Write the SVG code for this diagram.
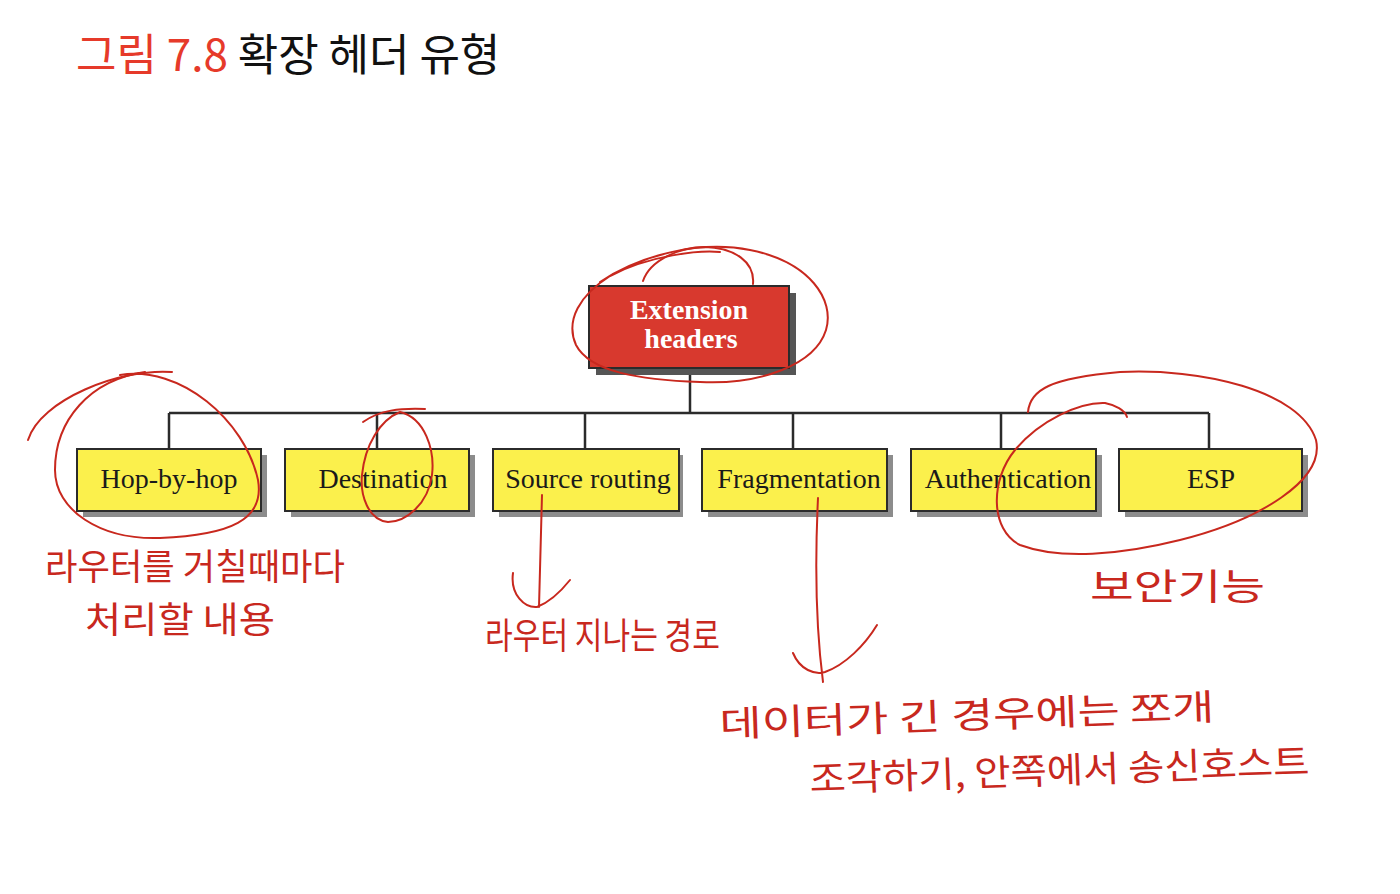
<svg xmlns="http://www.w3.org/2000/svg" width="1400" height="894" viewBox="0 0 1400 894">
<style>
.title{font-family:"Noto Sans CJK KR","Noto Sans",sans-serif;font-size:44px}
.lbl{font-family:"Liberation Serif","Times New Roman",serif;font-size:28px;fill:#1a1a1a;text-anchor:middle}
.ext{font-family:"Liberation Serif","Times New Roman",serif;font-size:28px;font-weight:bold;fill:#ffffff;text-anchor:middle}
.box{fill:#fbf04c;stroke:#2b2b2b;stroke-width:2}
.sh{fill:#8c8c8c}
.con{stroke:#2b2b2b;stroke-width:2.5;fill:none}
.ink{stroke:#c8281e;stroke-width:2;fill:none;stroke-linecap:round;stroke-linejoin:round}
.hw{font-family:"Noto Sans CJK KR",sans-serif;font-size:36px;fill:#c8281e}
</style>
<rect width="1400" height="894" fill="#ffffff"/>
<g id="title">
<text class="title" x="76" y="71"><tspan fill="#e63a2a">그림 7.8</tspan><tspan fill="#111111"> 확장 헤더 유형</tspan></text>
</g>
<g id="connectors">
<path class="con" d="M690 368 V413 M169 413 H1209 M169 413 V449 M377 413 V449 M585 413 V449 M793 413 V449 M1001 413 V449 M1209 413 V449"/>
</g>
<g id="extension-headers">
<rect x="596" y="293" width="200" height="82" fill="#555555"/>
<rect x="589" y="286" width="200" height="82" fill="#d8392e" stroke="#2b2b2b" stroke-width="2"/>
<text class="ext" x="689" y="319">Extension</text>
<text class="ext" x="691" y="348">headers</text>
</g>
<g id="hop-by-hop">
<rect class="sh" x="83" y="455" width="184" height="62"/>
<rect class="box" x="77" y="449" width="184" height="62"/>
<text class="lbl" x="169" y="488">Hop-by-hop</text>
</g>
<g id="destination">
<rect class="sh" x="291" y="455" width="184" height="62"/>
<rect class="box" x="285" y="449" width="184" height="62"/>
<text class="lbl" x="383" y="488">Destination</text>
</g>
<g id="source-routing">
<rect class="sh" x="499" y="455" width="184" height="62"/>
<rect class="box" x="493" y="449" width="186" height="62"/>
<text class="lbl" x="588" y="488">Source routing</text>
</g>
<g id="fragmentation">
<rect class="sh" x="708" y="455" width="185" height="62"/>
<rect class="box" x="702" y="449" width="185" height="62"/>
<text class="lbl" x="799" y="488">Fragmentation</text>
</g>
<g id="authentication">
<rect class="sh" x="917" y="455" width="185" height="62"/>
<rect class="box" x="911" y="449" width="185" height="62"/>
<text class="lbl" x="1008" y="488">Authentication</text>
</g>
<g id="esp">
<rect class="sh" x="1125" y="455" width="183" height="62"/>
<rect class="box" x="1119" y="449" width="183" height="62"/>
<text class="lbl" x="1211" y="488">ESP</text>
</g>
<g id="annotations">
<path class="ink" d="M600 282 C640 255 700 240 750 250 C810 262 835 300 826 330 C815 365 760 385 700 382 C640 380 590 372 576 345 C565 320 580 295 610 276 C650 255 700 250 720 252"/>
<path class="ink" d="M643 281 C650 260 680 247 705 247 C735 248 755 262 753 284"/>
<path class="ink" d="M172 372 C120 368 40 400 28 440"/>
<path class="ink" d="M120 375 C180 365 245 420 258 480 C265 520 230 535 160 538 C100 540 55 510 55 470 C55 420 90 380 145 372"/>
<path class="ink" d="M363 422 C380 410 400 408 425 409"/>
<path class="ink" d="M400 412 C425 418 435 450 432 475 C428 505 405 522 388 522 C368 520 360 495 362 475 C365 445 380 420 400 412"/>
<path class="ink" d="M542 495 C541 540 540 575 539 607 M513 573 C510 595 525 608 537 607 C550 602 562 590 570 580"/>
<path class="ink" d="M818 498 C815 560 815 620 823 682 M793 653 C800 670 815 675 825 672 C845 665 865 645 877 625"/>
<path class="ink" stroke-width="1.6" d="M1028 412 C1030 390 1050 378 1120 372 C1200 368 1300 390 1316 440 C1325 480 1260 520 1180 540 C1120 555 1060 560 1020 545 C990 530 990 480 1015 450 C1040 420 1080 402 1105 403 C1115 405 1125 410 1127 417"/>
<text class="hw" x="45" y="580" textLength="300" lengthAdjust="spacingAndGlyphs">라우터를 거칠때마다</text>
<text class="hw" x="85" y="633" textLength="190" lengthAdjust="spacingAndGlyphs">처리할 내용</text>
<text class="hw" x="485" y="649" textLength="235" lengthAdjust="spacingAndGlyphs">라우터 지나는 경로</text>
<text class="hw" x="720" y="737" textLength="495" lengthAdjust="spacingAndGlyphs" transform="rotate(-2 720 737)">데이터가 긴 경우에는 쪼개</text>
<text class="hw" x="810" y="792" textLength="500" lengthAdjust="spacingAndGlyphs" transform="rotate(-2 810 792)">조각하기, 안쪽에서 송신호스트</text>
<text class="hw" x="1090" y="600" textLength="175" lengthAdjust="spacingAndGlyphs">보안기능</text>
</g>
</svg>
